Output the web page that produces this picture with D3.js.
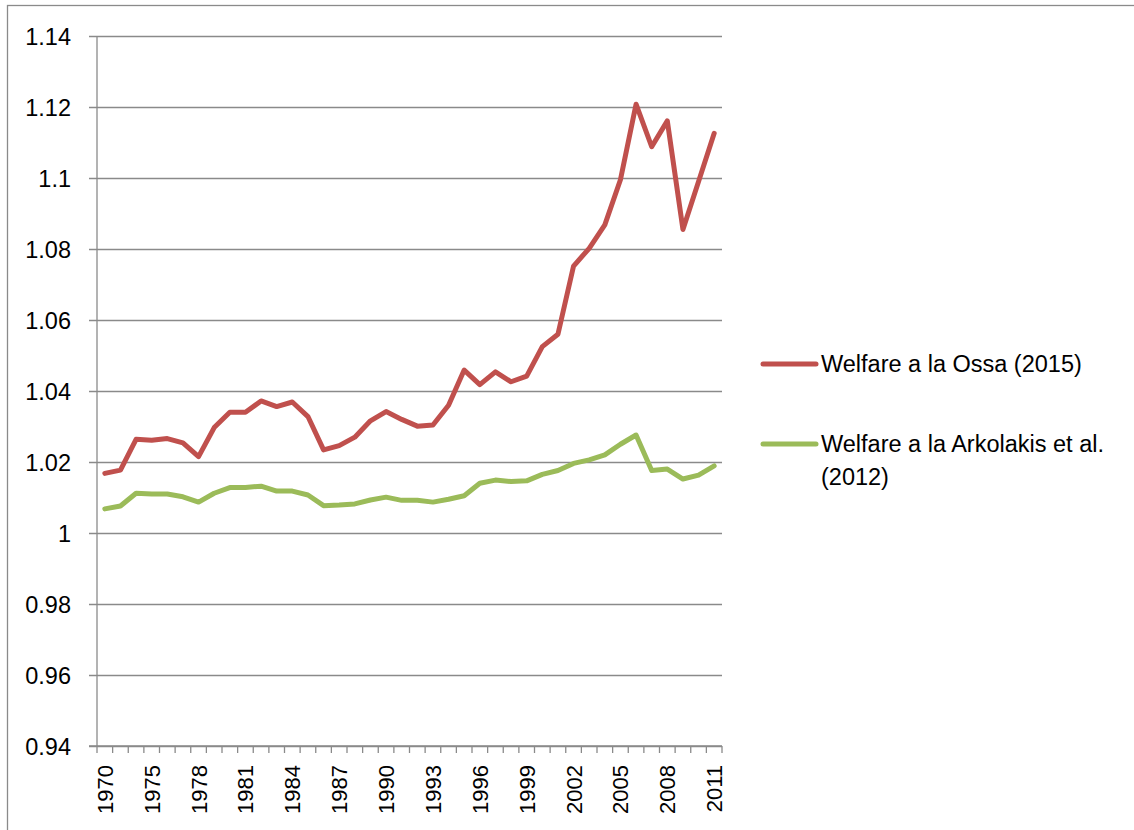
<!DOCTYPE html>
<html>
<head>
<meta charset="utf-8">
<script src="https://cdn.jsdelivr.net/npm/d3@7"></script>
<style>
  html, body { margin: 0; padding: 0; background: #ffffff; }
  svg { display: block; }
  text { font-family: "Liberation Sans", Arial, sans-serif; fill: #000; }
</style>
</head>
<body>
<svg id="chart" width="1134" height="830"></svg>
<script>
// ---- data ----
const years = ["1970","1972","1974","1975","1976","1977","1978","1979","1980","1981",
  "1982","1983","1984","1985","1986","1987","1988","1989","1990","1991",
  "1992","1993","1994","1995","1996","1997","1998","1999","2000","2001",
  "2002","2003","2004","2005","2006","2007","2008","2009","2010","2011"];
const tickYears = ["1970","1975","1978","1981","1984","1987","1990","1993","1996","1999","2002","2005","2008","2011"];
const ossa = [1.0168,1.0177,1.0264,1.0261,1.0266,1.0254,1.0215,1.0297,1.0340,1.0340,
  1.0372,1.0356,1.0369,1.0328,1.0234,1.0246,1.0270,1.0316,1.0342,1.0320,
  1.0301,1.0304,1.0360,1.0459,1.0418,1.0454,1.0426,1.0442,1.0525,1.0560,
  1.0752,1.0802,1.0868,1.0995,1.1208,1.1088,1.1161,1.0855,1.0990,1.1126];
const arkolakis = [1.0068,1.0076,1.0112,1.0110,1.0110,1.0102,1.0087,1.0112,1.0128,1.0128,
  1.0132,1.0118,1.0118,1.0107,1.0077,1.0079,1.0082,1.0093,1.0101,1.0092,
  1.0092,1.0087,1.0095,1.0105,1.0140,1.0149,1.0145,1.0147,1.0165,1.0176,
  1.0196,1.0206,1.0220,1.0250,1.0276,1.0176,1.0180,1.0152,1.0163,1.0189];
const yTicks = [0.94,0.96,0.98,1.00,1.02,1.04,1.06,1.08,1.10,1.12,1.14];
const seriesNames = ["Welfare a la Ossa (2015)", "Welfare a la Arkolakis et al. (2012)"];
const seriesColors = ["#C0504D", "#9BBB59"];

// ---- layout ----
const svg = d3.select("#chart");
const plot = {left: 97, right: 722, top: 36, bottom: 746};
const gridColor = "#8a8a8a";

// outer frame
svg.append("rect")
  .attr("x", 7.5).attr("y", 5.5)
  .attr("width", 1200).attr("height", 900)
  .attr("fill", "none").attr("stroke", gridColor).attr("stroke-width", 1.3);

const x = d3.scaleBand().domain(years).range([plot.left, plot.right]).paddingInner(0).paddingOuter(0);
const y = d3.scaleLinear().domain([0.94, 1.14]).range([plot.bottom, plot.top]);
const cx = d => x(d) + x.bandwidth() / 2;

// gridlines + y axis ticks
const yAxis = d3.axisLeft(y).tickValues(yTicks)
  .tickSize(-(plot.right - plot.left))
  .tickFormat(d => d3.format("")(+d.toFixed(2)));
const gy = svg.append("g").attr("transform", `translate(${plot.left},0)`).call(yAxis);
gy.select(".domain").remove();
gy.selectAll(".tick line").attr("stroke", gridColor).attr("stroke-width", 1.3)
  .attr("x1", -8);
gy.selectAll(".tick text").attr("x", -26).attr("dy", "0.35em")
  .style("font-size", "23.5px").style("font-family", "'Liberation Sans', Arial, sans-serif")
  .attr("fill", "#000");

// y axis line
svg.append("line")
  .attr("x1", plot.left).attr("x2", plot.left)
  .attr("y1", y(1.14)).attr("y2", y(0.94))
  .attr("stroke", gridColor).attr("stroke-width", 1.3);

// x axis: ticks at category boundaries
const bounds = years.map(d => x(d)).concat([plot.right]);
svg.append("line")
  .attr("x1", plot.left - 8).attr("x2", plot.right)
  .attr("y1", plot.bottom).attr("y2", plot.bottom)
  .attr("stroke", gridColor).attr("stroke-width", 1.3);
svg.append("g").selectAll("line").data(bounds).join("line")
  .attr("x1", d => d).attr("x2", d => d)
  .attr("y1", plot.bottom).attr("y2", plot.bottom + 7)
  .attr("stroke", gridColor).attr("stroke-width", 1.3);

// x labels rotated
svg.append("g").selectAll("text").data(tickYears).join("text")
  .attr("transform", d => `translate(${cx(d) + 8},${plot.bottom + 19}) rotate(-90)`)
  .attr("text-anchor", "end")
  .style("font-size", "22px")
  .text(d => d);

// lines
const line = d3.line().x((d, i) => cx(years[i])).y(d => y(d));
[ossa, arkolakis].forEach((s, k) => {
  svg.append("path").datum(s)
    .attr("d", line)
    .attr("fill", "none")
    .attr("stroke", seriesColors[k])
    .attr("stroke-width", 5)
    .attr("stroke-linejoin", "round")
    .attr("stroke-linecap", "round");
});

// legend
const legend = svg.append("g");
const legendItems = [
  {y: 364, lines: ["Welfare a la Ossa (2015)"]},
  {y: 444, lines: ["Welfare a la Arkolakis et al.", "(2012)"]}
];
legendItems.forEach((it, k) => {
  legend.append("line")
    .attr("x1", 763).attr("x2", 816)
    .attr("y1", it.y).attr("y2", it.y)
    .attr("stroke", seriesColors[k]).attr("stroke-width", 5)
    .attr("stroke-linecap", "round");
  const t = legend.append("text").attr("x", 821).attr("y", it.y).attr("dy", "0.35em")
    .style("font-size", "23.5px");
  it.lines.forEach((ln, j) => {
    t.append("tspan").attr("x", 821).attr("dy", j === 0 ? "0.35em" : "33px").text(ln);
  });
});
</script>
</body>
</html>
